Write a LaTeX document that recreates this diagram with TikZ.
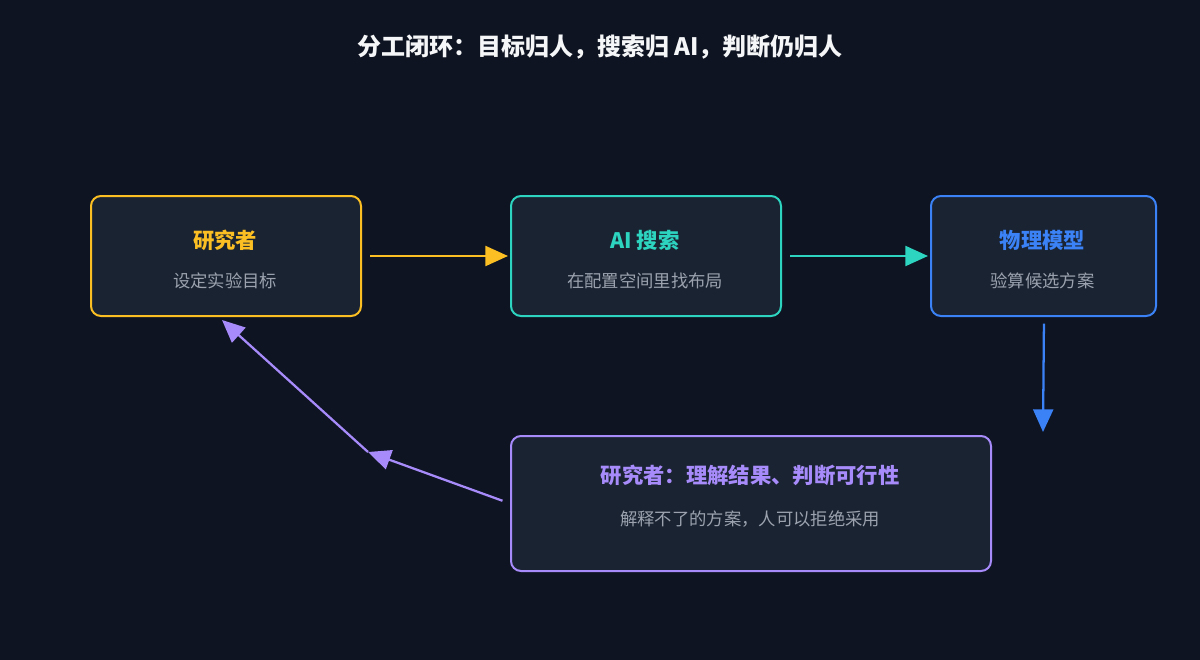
\documentclass[tikz,border=0pt]{standalone}
\usepackage{fontspec}
\setmainfont{Noto Sans CJK SC}
\usetikzlibrary{arrows.meta}
\definecolor{bgcolor}{HTML}{0E1422}
\definecolor{boxfill}{HTML}{1A2332}
\definecolor{yellowc}{HTML}{FBBF24}
\definecolor{tealc}{HTML}{2DD4BF}
\definecolor{bluec}{HTML}{3B82F6}
\definecolor{purplec}{HTML}{A78BFA}
\definecolor{subc}{HTML}{9CA3AF}
\tikzset{
  box/.style={draw=#1, fill=boxfill, line width=1.5pt, rounded corners=7.5pt, anchor=north west},
  ttl/.style={font=\bfseries\fontsize{16}{18}\selectfont},
  sub/.style={text=subc, font=\fontsize{13}{15}\selectfont},
  arr/.style={draw=#1, line width=1.7pt, -{Triangle[length=17pt,width=15pt]}}
}
\begin{document}
\begin{tikzpicture}[x=0.75pt,y=-0.75pt]
  \fill [bgcolor] (0,0) rectangle (1200,660);
  \useasboundingbox (0,0) rectangle (1200,660);
  \node [text=white!90!subc, font=\bfseries\fontsize{18}{20}\selectfont] (title) at (600,47) {分工闭环：目标归人，搜索归 AI，判断仍归人};
  % boxes
  \node [box=yellowc, minimum width=202.5pt, minimum height=90pt] (res) at (90,195) {};
  \node [box=tealc, minimum width=202.5pt, minimum height=90pt] (ai) at (510,195) {};
  \node [box=bluec, minimum width=168.75pt, minimum height=90pt] (phy) at (930,195) {};
  \node [box=purplec, minimum width=360pt, minimum height=101.25pt] (judge) at (510,435) {};
  % texts
  \node [ttl, text=yellowc] at (225,240) {研究者};
  \node [sub] at (225,281) {设定实验目标};
  \node [ttl, text=tealc] at (645,240) {AI 搜索};
  \node [sub] at (645,281) {在配置空间里找布局};
  \node [ttl, text=bluec] at (1042.5,240) {物理模型};
  \node [sub] at (1042.5,281) {验算候选方案};
  \node [ttl, text=purplec] at (750,475) {研究者：理解结果、判断可行性};
  \node [sub] at (750,519) {解释不了的方案，人可以拒绝采用};
  % connectors
  \coordinate (down) at (1043,432);
  \coordinate (bend) at (368,452);
  \coordinate (back) at (222,320);
  \draw [arr=yellowc, shorten <=6pt, shorten >=1.5pt] (res.east) -- (ai.west);
  \draw [arr=tealc, shorten <=6pt, shorten >=1.5pt] (ai.east) -- (phy.west);
  \draw [arr=bluec, shorten <=5pt] (phy.south) ++(0.5,0) -- (down);
  \draw [arr=purplec, shorten <=6pt] (judge.west) -- (bend);
  \draw [arr=purplec] (bend) -- (back);
\end{tikzpicture}
\end{document}
